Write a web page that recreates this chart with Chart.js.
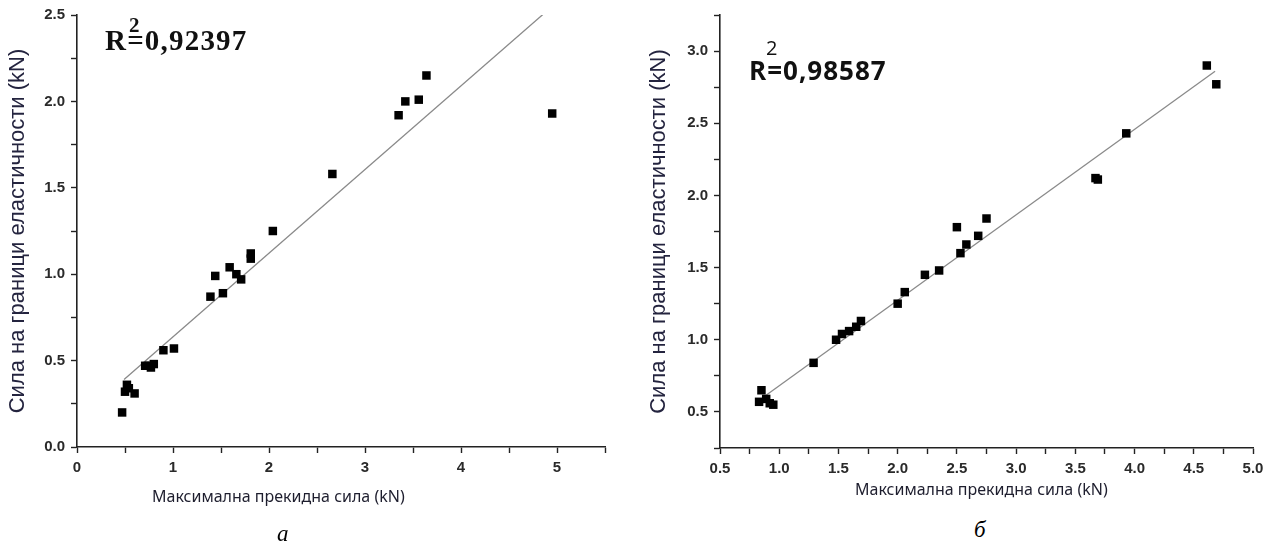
<!DOCTYPE html>
<html>
<head>
<meta charset="utf-8">
<script src="https://cdn.jsdelivr.net/npm/chart.js@4/dist/chart.umd.min.js"></script>
<style>
  body { margin: 0; background: #fff; width: 1273px; height: 551px; position: relative; overflow: hidden; }
  canvas { position: absolute; top: 0; }
  #chartA { left: 0; }
  #chartB { left: 636px; }
  .lbl { position: absolute; white-space: nowrap; color: #1e1e2e; }
  .xtitle { font-family: "Noto Sans", "Open Sans", sans-serif; font-size: 16px; }
  .panel { font-family: "Liberation Serif", "Times New Roman", serif; font-style: italic; font-size: 23px; color: #000; }
  .r2a { font-family: "Liberation Serif", "Times New Roman", serif; font-weight: bold; font-size: 29px; letter-spacing: 1.2px; color: #111; }
  .r2b { font-family: "Open Sans", "Noto Sans", sans-serif; font-weight: bold; font-size: 26px; letter-spacing: 1px; color: #111; }
</style>
</head>
<body>
<canvas id="chartA" width="636" height="490"></canvas>
<canvas id="chartB" width="637" height="490"></canvas>

<div class="lbl r2a" style="left:105px; top:24px;">R=0,92397</div>
<div class="lbl r2a" style="left:129px; top:13px; font-size:21px; letter-spacing:0;">2</div>
<div class="lbl r2b" style="left:749px; top:52px;">R=0,98587</div>
<div class="lbl r2b" style="left:766px; top:34px; font-size:20px; font-weight:normal; letter-spacing:0;">2</div>

<div class="lbl xtitle" style="left:152px; top:485px;">Максимална прекидна сила (kN)</div>
<div class="lbl xtitle" style="left:855px; top:478px;">Максимална прекидна сила (kN)</div>
<div class="lbl panel" style="left:277px; top:521px;">а</div>
<div class="lbl panel" style="left:974px; top:517px;">б</div>

<script>
// panel a
const leftX = [0.47, 0.50, 0.52, 0.54, 0.60, 0.71, 0.75, 0.77, 0.80, 0.90, 1.01, 1.39, 1.44, 1.52, 1.59, 1.66, 1.71, 1.81, 1.81, 2.04, 2.66, 3.35, 3.42, 3.56, 3.64, 4.95];
const leftY = [0.20, 0.32, 0.36, 0.34, 0.31, 0.47, 0.47, 0.46, 0.48, 0.56, 0.57, 0.87, 0.99, 0.89, 1.04, 1.00, 0.97, 1.09, 1.12, 1.25, 1.58, 1.92, 2.00, 2.01, 2.15, 1.93];
const leftFitX = [0.49, 4.95];
const leftFitY = [0.39, 2.55];

// panel b
const rightX = [0.83, 0.85, 0.89, 0.92, 0.95, 1.29, 1.48, 1.53, 1.59, 1.65, 1.69, 2.00, 2.06, 2.23, 2.35, 2.50, 2.53, 2.58, 2.68, 2.75, 3.67, 3.69, 3.93, 4.61, 4.69];
const rightY = [0.57, 0.65, 0.59, 0.56, 0.55, 0.84, 1.00, 1.04, 1.06, 1.09, 1.13, 1.25, 1.33, 1.45, 1.48, 1.78, 1.60, 1.66, 1.72, 1.84, 2.12, 2.11, 2.43, 2.90, 2.77];
const rightFitX = [0.88, 4.68];
const rightFitY = [0.61, 2.86];

const yTitle = "Сила на граници еластичности (kN)";

const toPoints = (xs, ys) => xs.map((x, i) => ({ x: x, y: ys[i] }));
const halfLabel = (v) => Math.abs(v * 2 - Math.round(v * 2)) < 1e-6 ? v.toFixed(1) : "";
const intLabel = (v) => Math.abs(v - Math.round(v)) < 1e-6 ? String(Math.round(v)) : "";

const tickFont = { family: "Liberation Sans, Arial, sans-serif", size: 15, weight: "bold" };

function makeChart(canvasId, xs, ys, fitX, fitY, opts) {
    return new Chart(document.getElementById(canvasId), {
        type: "scatter",
        data: {
            datasets: [{
                data: toPoints(xs, ys),
                pointStyle: "rect",
                pointRadius: 6,
                pointHoverRadius: 6,
                backgroundColor: "#000",
                borderColor: "#000",
                borderWidth: 0
            }, {
                type: "line",
                data: toPoints(fitX, fitY),
                borderColor: "#8a8a8a",
                borderWidth: 1.3,
                pointRadius: 0,
                fill: false
            }]
        },
        options: {
            responsive: false,
            animation: false,
            devicePixelRatio: 1,
            layout: { padding: opts.padding },
            plugins: { legend: { display: false }, tooltip: { enabled: false } },
            scales: {
                x: {
                    type: "linear",
                    min: opts.xMin,
                    max: opts.xMax,
                    afterFit: (s) => { s.height = 30; },
                    border: { display: true, color: "#222", width: 1.6 },
                    grid: { drawOnChartArea: false, drawTicks: true, tickLength: 6, tickColor: "#222", tickWidth: 1.4 },
                    ticks: {
                        stepSize: opts.xStep,
                        autoSkip: false,
                        maxRotation: 0,
                        padding: 6,
                        color: "#2a2a2a",
                        font: tickFont,
                        callback: opts.xLabel
                    }
                },
                y: {
                    min: opts.yMin,
                    max: opts.yMax,
                    afterFit: (s) => { s.width = opts.yWidth; },
                    border: { display: true, color: "#222", width: 1.6 },
                    grid: { drawOnChartArea: false, drawTicks: true, tickLength: 6, tickColor: "#222", tickWidth: 1.4 },
                    ticks: {
                        stepSize: 0.25,
                        autoSkip: false,
                        padding: 6,
                        color: "#2a2a2a",
                        font: tickFont,
                        callback: halfLabel
                    },
                    title: {
                        display: true,
                        text: yTitle,
                        color: "#24243f",
                        font: { family: "Liberation Sans, Arial, sans-serif", size: 22 },
                        padding: { top: opts.titlePad, bottom: 0 }
                    }
                }
            }
        }
    });
}

makeChart("chartA", leftX, leftY, leftFitX, leftFitY, {
    padding: { top: 15, right: 31, bottom: 13, left: 0 },
    xMin: 0, xMax: 5.5, xStep: 0.5, xLabel: intLabel,
    yMin: 0, yMax: 2.5, yWidth: 77, titlePad: 5
});

makeChart("chartB", rightX, rightY, rightFitX, rightFitY, {
    padding: { top: 13, right: 20, bottom: 12, left: 0 },
    xMin: 0.5, xMax: 5.0, xStep: 0.25, xLabel: halfLabel,
    yMin: 0.25, yMax: 3.25, yWidth: 84, titlePad: 10
});
</script>
</body>
</html>
